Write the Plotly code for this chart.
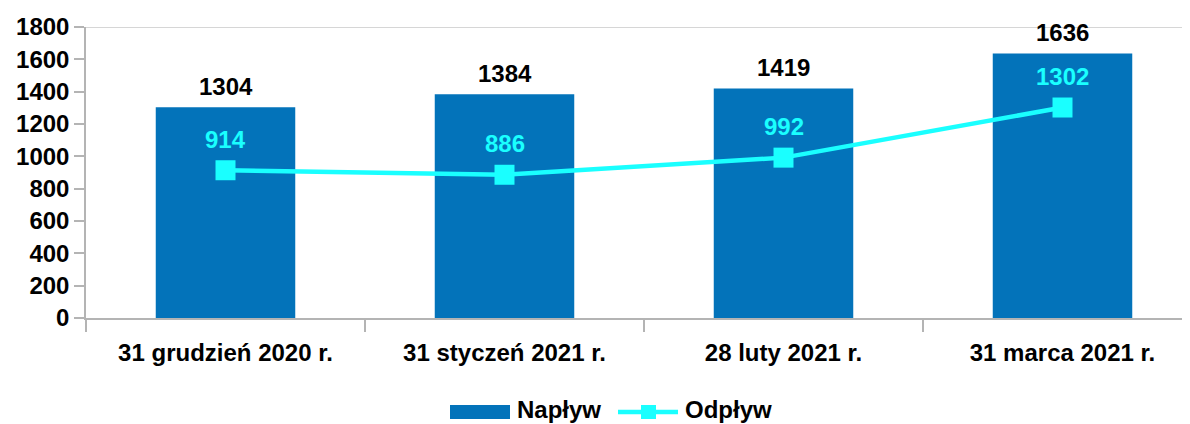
import plotly.graph_objects as go

categories = ["31 grudzień 2020 r.", "31 styczeń 2021 r.", "28 luty 2021 r.", "31 marca 2021 r."]
naplyw = [1304, 1384, 1419, 1636]
odplyw = [914, 886, 992, 1302]
y_ticks = [0, 200, 400, 600, 800, 1000, 1200, 1400, 1600, 1800]

BLUE = "#0373BA"
CYAN = "#1AFFFF"
FONT = "Liberation Sans"

# page has an 8px body margin: figure drawn at (8, 8)
OFF = 8
W, H = 1190 - OFF, 424 - OFF
L, T = 86 - OFF, 27 - OFF
B = H - T - 291

fig = go.Figure()
fig.add_trace(go.Bar(
    x=categories, y=naplyw, name="Napływ", marker=dict(color=BLUE, line=dict(width=0)),
    width=0.5, showlegend=False,
))
fig.add_trace(go.Scatter(
    x=categories, y=odplyw, name="Odpływ", mode="lines+markers",
    line=dict(color=CYAN, width=4.5), marker=dict(symbol="square", size=20, color=CYAN),
    cliponaxis=False, showlegend=False,
))
for c, v in zip(categories, naplyw):
    fig.add_annotation(x=c, y=v, text=str(v), showarrow=False, yshift=21, yanchor="middle",
                       font=dict(family=FONT, size=24, color="black", weight="bold"))
for c, v in zip(categories, odplyw):
    fig.add_annotation(x=c, y=v, text=str(v), showarrow=False, yshift=31, yanchor="middle",
                       font=dict(family=FONT, size=24, color=CYAN, weight="bold"))

fig.add_shape(type="line", xref="paper", yref="y", x0=0, x1=1, y0=1800, y1=1800,
              line=dict(color="#C8C8C8", width=1.5), layer="below")

# manual legend (page pixel positions converted to paper coords)
pw, ph = W - L, H - T - B
def px(x):
    return (x - OFF - L) / pw
def py(y):
    return (H - B - (y - OFF)) / ph
fig.add_shape(type="rect", xref="paper", yref="paper", x0=px(450), x1=px(510), y0=py(419), y1=py(405),
              fillcolor=BLUE, line=dict(width=0))
fig.add_annotation(xref="paper", yref="paper", x=px(516), y=py(424), xanchor="left", yanchor="bottom",
                   borderpad=0, text="Napływ", showarrow=False,
                   font=dict(family=FONT, size=24, color="black", weight="bold"))
fig.add_shape(type="line", xref="paper", yref="paper", x0=px(618), x1=px(678), y0=py(412), y1=py(412),
              line=dict(color=CYAN, width=4.5))
fig.add_shape(type="rect", xref="paper", yref="paper", x0=px(641), x1=px(656), y0=py(419), y1=py(405),
              fillcolor=CYAN, line=dict(width=0))
fig.add_annotation(xref="paper", yref="paper", x=px(684), y=py(424), xanchor="left", yanchor="bottom",
                   borderpad=0, text="Odpływ", showarrow=False,
                   font=dict(family=FONT, size=24, color="black", weight="bold"))

fig.update_layout(
    width=W, height=H,
    margin=dict(l=L, r=0, t=T, b=B),
    plot_bgcolor="white", paper_bgcolor="white",
    font=dict(family=FONT, size=20, color="black"),
    showlegend=False,
    xaxis=dict(range=[-0.5, 3.457], showgrid=False, showline=True, linecolor="#B4B4B4", linewidth=1.5,
               ticks="outside", tickson="boundaries", ticklen=12, tickcolor="#B4B4B4", tickwidth=1.5,
               tickfont=dict(family=FONT, size=24, color="black", weight="bold"), zeroline=False,
               ticklabelstandoff=12, automargin=False),
    yaxis=dict(range=[0, 1800], tickvals=y_ticks, showgrid=False, showline=True, linecolor="#B4B4B4",
               linewidth=1.5, ticks="outside", ticklen=10, tickcolor="#B4B4B4", tickwidth=1.5,
               tickfont=dict(family=FONT, size=24, color="black", weight="bold"), zeroline=False,
               automargin=False),
)
fig.write_html("out.html")
